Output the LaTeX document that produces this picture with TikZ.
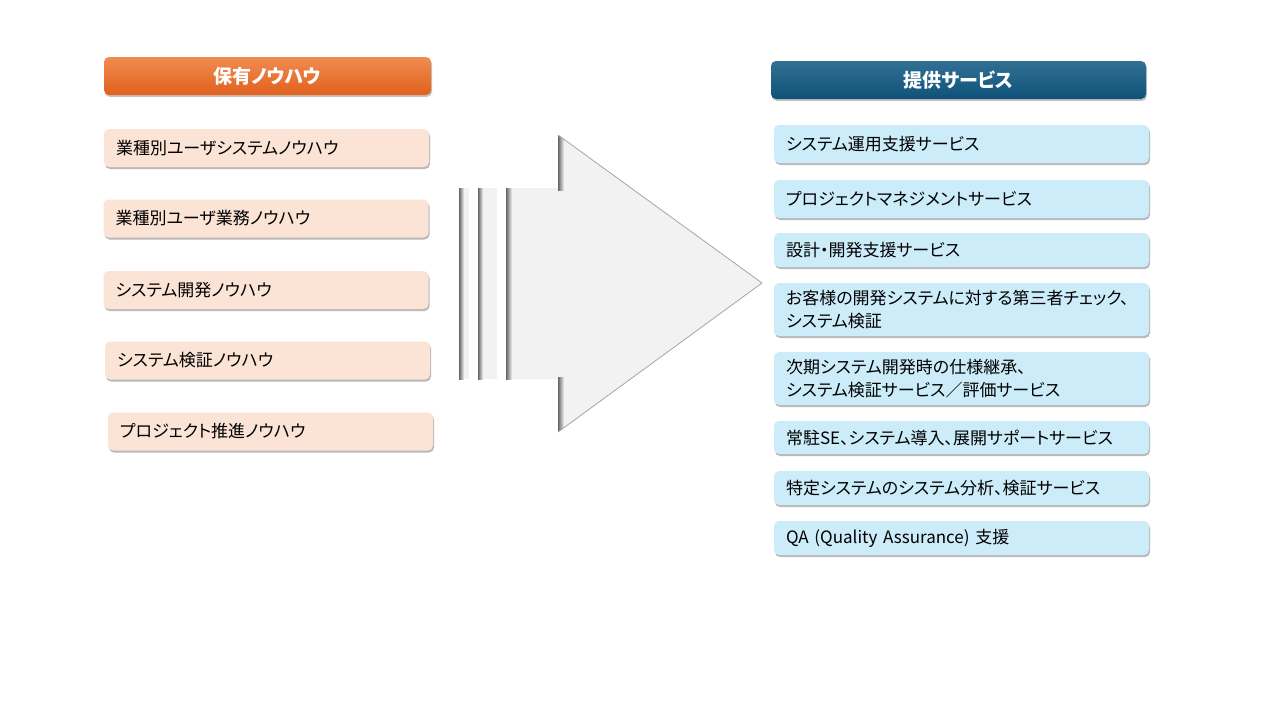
\documentclass[tikz,border=0pt]{standalone}
\usepackage{fontspec}
\setmainfont{Noto Sans CJK JP}[RawFeature=+palt]
\usepackage{xcolor}
\definecolor{kwtop}{RGB}{240,140,82}
\definecolor{kwbot}{RGB}{225,96,28}
\definecolor{kwpeach}{RGB}{251,227,214}
\definecolor{svtop}{RGB}{50,112,148}
\definecolor{svbot}{RGB}{14,82,120}
\definecolor{svsky}{RGB}{204,236,250}
\definecolor{arrowgray}{RGB}{242,242,242}
\usetikzlibrary{positioning,shadows}

\begin{document}
\begin{tikzpicture}[x=1pt, y=-1pt, every node/.style={font=\fontsize{17}{23}\selectfont},
  hd/.style={rounded corners=5pt, minimum height=38pt, text=white, font=\fontsize{19}{23}\selectfont\bfseries,
    drop shadow={shadow xshift=1pt, shadow yshift=-2pt, opacity=0.45}},
  lbx/.style={rounded corners=5pt, fill=kwpeach, text width=301pt, inner xsep=12pt, minimum height=38pt, align=left,
    drop shadow={shadow xshift=1pt, shadow yshift=-2pt, opacity=0.55}},
  rbx/.style={rounded corners=5pt, fill=svsky, text width=351pt, inner xsep=12pt, align=left,
    drop shadow={shadow xshift=1pt, shadow yshift=-2pt, opacity=0.55}},
  edge shade/.style={left color=black!60, right color=arrowgray}]
\fill[white] (0,0) rectangle (1280,720);
\useasboundingbox (0,0) rectangle (1280,720);
% Left column
\node[hd, top color=kwtop, bottom color=kwbot, minimum width=327pt] (know) at (267.5,76) {保有ノウハウ};
\node[lbx] (know1) at (266.5,148) {業種別ユーザシステムノウハウ};
\node[lbx] (know2) at (266,218.5) {業種別ユーザ業務ノウハウ};
\node[lbx] (know3) at (266,290) {システム開発ノウハウ};
\node[lbx] (know4) at (267.5,360.5) {システム検証ノウハウ};
\node[lbx] (know5) at (270.5,431.5) {プロジェクト推進ノウハウ};
% Arrow
\fill[arrowgray] (459,188) rectangle (469,379);
\fill[arrowgray] (478,188) rectangle (497,379);
\fill[arrowgray] (506,188) -- (558,188) -- (558,135) -- (762,283) -- (558,432) -- (558,379) -- (506,379) -- cycle;
\shade[edge shade] (459,188) rectangle (464,379);
\shade[edge shade] (478,188) rectangle (483,379);
\shade[edge shade] (506,188) rectangle (512,379);
\begin{scope}
  \clip (558,135) -- (762,283) -- (558,432) -- cycle;
  \shade[edge shade] (558,130) rectangle (564,190);
  \shade[edge shade] (558,377) rectangle (564,440);
\end{scope}
\draw[black!35, line width=0.8pt] (558,135) -- (762,283) -- (558,432);
% Right column
\node[hd, top color=svtop, bottom color=svbot, minimum width=375pt] (serv) at (958.5,80) {提供サービス};
\node[rbx, minimum height=38pt] (serv1) at (961.5,144) {システム運用支援サービス};
\node[rbx, minimum height=38pt] (serv2) at (961.5,199) {プロジェクトマネジメントサービス};
\node[rbx, minimum height=34pt] (serv3) at (961.5,250) {設計・開発支援サービス};
\node[rbx, minimum height=53pt] (serv4) at (961.5,309.5) {お客様の開発システムに対する第三者チェック、\\システム検証};
\node[rbx, minimum height=53pt] (serv5) at (961.5,378.5) {次期システム開発時の仕様継承、\\システム検証サービス／評価サービス};
\node[rbx, minimum height=33pt] (serv6) at (961.5,437.5) {常駐SE、システム導入、展開サポートサービス};
\node[rbx, minimum height=34pt] (serv7) at (961.5,488) {特定システムのシステム分析、検証サービス};
\node[rbx, minimum height=34pt] (serv8) at (961.5,538) {QA (Quality Assurance) 支援};
\end{tikzpicture}
\end{document}
